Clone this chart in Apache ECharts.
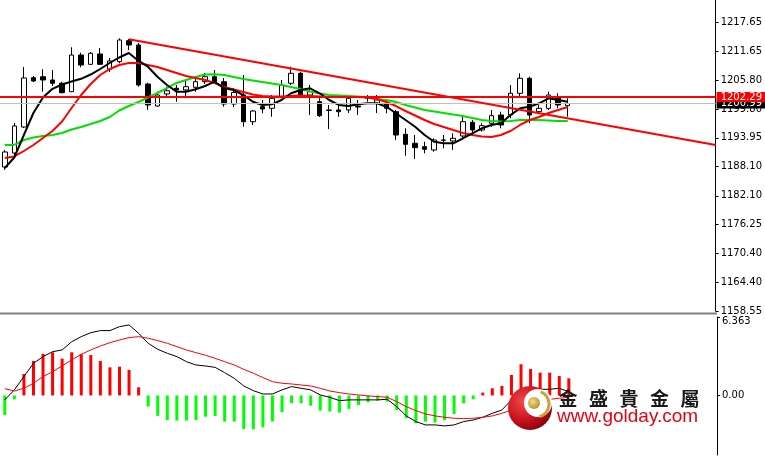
<!DOCTYPE html>
<html><head><meta charset="utf-8">
<script src="https://cdn.jsdelivr.net/npm/echarts@6/dist/echarts.min.js"></script>
<style>html,body{margin:0;padding:0;background:#fff}#c{width:765px;height:460px}</style>
</head><body><div id="c"></div>
<script>
// ---- candles (OHLC) ----
const opens = [1188.00,1190.86,1196.18,1206.26,1206.47,1205.79,1205.12,1203.40,1210.90,1209.00,
 1211.11,1207.98,1209.53,1213.83,1212.95,1204.97,1200.47,1202.93,1204.09,1203.75,
 1204.30,1205.44,1206.47,1205.44,1200.88,1202.72,1197.26,1200.33,1200.00,1202.38,
 1205.12,1207.16,1202.72,1201.35,1199.66,1199.66,1199.66,1200.47,1202.11,1201.03,
 1201.03,1199.31,1194.69,1192.85,1192.15,1191.48,1193.52,1193.32,1194.34,1197.14,
 1195.57,1196.94,1198.63,1198.63,1203.07,1206.14,1199.31,1200.00,1202.38,1200.54];
const closes = [1191.07,1196.38,1206.20,1205.59,1205.79,1205.12,1203.19,1210.90,1208.86,1211.25,
 1209.00,1209.68,1213.97,1212.95,1204.77,1200.68,1202.72,1203.60,1203.75,1204.42,
 1205.44,1206.47,1205.44,1200.88,1203.23,1197.26,1199.45,1199.86,1202.05,1204.77,
 1207.16,1202.72,1203.40,1198.49,1199.55,1199.31,1202.05,1200.27,1202.01,1201.70,
 1200.00,1194.54,1192.64,1191.95,1191.62,1193.52,1193.46,1193.87,1197.26,1195.57,
 1196.45,1198.49,1196.59,1203.07,1206.14,1198.63,1200.00,1202.72,1200.68,1200.99];
const lows = [1187.40,1190.45,1195.97,1205.38,1203.40,1204.56,1203.07,1203.34,1208.39,1208.86,
 1208.86,1207.43,1209.20,1211.90,1204.42,1199.66,1200.33,1202.38,1201.35,1202.05,
 1203.40,1204.97,1205.12,1200.33,1200.27,1196.24,1196.59,1198.98,1198.29,1202.05,
 1204.77,1202.38,1198.63,1198.22,1195.77,1198.29,1199.04,1198.63,1201.35,1199.04,
 1198.98,1193.52,1190.31,1189.63,1190.80,1191.13,1191.82,1191.48,1193.93,1194.54,
 1195.22,1196.24,1195.91,1197.96,1202.38,1196.94,1198.98,1199.66,1200.00,1198.29];
const highs = [1191.50,1197.00,1208.45,1206.60,1207.98,1207.84,1205.44,1212.48,1211.37,1211.52,
 1212.33,1210.29,1214.32,1214.17,1213.36,1205.24,1203.40,1204.42,1204.77,1205.79,
 1206.47,1207.22,1207.84,1206.20,1204.15,1206.81,1199.66,1201.70,1202.72,1205.79,
 1208.51,1207.49,1204.77,1202.11,1200.68,1200.68,1202.72,1201.70,1202.72,1202.72,
 1201.70,1199.66,1195.91,1194.54,1193.17,1193.87,1194.54,1194.89,1198.63,1197.61,
 1196.94,1199.66,1199.31,1204.77,1207.16,1206.47,1200.68,1203.40,1203.07,1202.05];

// ---- moving averages ----
const maFast = [1187.79,1189.94,1194.54,1199.04,1202.21,1203.99,1204.87,1205.48,1206.03,1206.91,
 1208.04,1209.27,1210.39,1211.31,1209.74,1208.51,1206.46,1204.77,1203.40,1203.40,
 1203.89,1204.56,1205.44,1204.09,1203.74,1202.72,1201.35,1200.68,1200.82,1201.70,
 1203.07,1203.74,1204.09,1203.07,1201.70,1200.68,1200.47,1200.82,1201.03,1201.03,
 1200.33,1198.98,1197.61,1196.24,1194.54,1193.17,1192.85,1192.85,1193.83,1194.89,
 1195.91,1196.59,1196.94,1198.63,1200.00,1200.33,1201.03,1202.05,1201.70,1201.35];
const maMid = [1189.84,1190.15,1191.27,1192.50,1193.93,1195.36,1197.30,1200.06,1202.72,1204.97,
 1206.81,1208.04,1208.86,1209.27,1209.27,1208.86,1208.45,1207.83,1207.22,1206.61,
 1206.20,1205.79,1205.18,1204.36,1203.85,1203.34,1202.82,1202.52,1202.42,1202.42,
 1202.52,1202.62,1202.52,1202.42,1202.31,1202.31,1202.31,1202.31,1202.21,1201.90,
 1201.29,1200.47,1199.45,1198.53,1197.61,1196.79,1196.18,1195.56,1194.95,1194.54,
 1194.24,1194.13,1194.54,1195.36,1196.59,1197.61,1198.22,1199.04,1199.66,1200.27];
const maSlow = [1192.50,1192.50,1193.52,1194.03,1194.34,1194.54,1194.95,1195.67,1196.18,1196.79,
 1197.41,1198.22,1199.55,1200.47,1201.29,1202.21,1203.13,1204.15,1205.18,1205.79,
 1206.40,1206.91,1206.96,1206.81,1206.40,1205.99,1205.69,1205.38,1205.07,1204.77,
 1204.36,1203.95,1203.44,1203.03,1202.72,1202.62,1202.52,1202.42,1202.21,1201.90,
 1201.70,1201.29,1200.68,1200.17,1199.65,1199.35,1199.04,1198.73,1198.43,1198.02,
 1197.61,1197.41,1197.30,1197.41,1197.61,1197.61,1197.61,1197.51,1197.41,1197.41];

// ---- MACD ----
const macdHist = [-1.58,-0.32,1.74,2.80,3.37,3.50,2.99,3.50,3.34,3.28,
 2.80,2.28,2.33,2.07,0.66,-0.90,-1.66,-1.99,-2.04,-2.04,
 -1.99,-1.72,-1.66,-2.12,-2.12,-2.72,-2.74,-2.58,-2.12,-1.36,
 -0.63,-0.63,-0.83,-1.23,-1.31,-1.39,-1.09,-0.77,-0.55,-0.42,
 -0.50,-1.18,-1.85,-2.26,-2.12,-2.20,-1.99,-1.50,-0.63,-0.31,
 0.23,0.58,0.77,1.66,2.53,2.15,1.85,1.85,1.58,1.39];
const macdDif = [-0.36,0.45,1.53,2.61,3.15,3.55,3.69,4.36,4.77,5.09,
 5.26,5.26,5.58,5.72,5.04,4.23,3.74,3.42,3.15,2.74,
 2.47,2.39,2.28,1.85,1.39,0.77,0.39,0.12,0.12,0.45,
 0.72,0.58,0.45,0.04,-0.15,-0.42,-0.36,-0.36,-0.36,-0.36,
 -0.31,-0.91,-1.66,-2.12,-2.39,-2.39,-2.47,-2.39,-2.12,-1.99,
 -1.77,-1.45,-1.18,-0.36,0.31,0.45,0.50,0.50,0.58,0.31];
const macdDea = [0.55,0.36,0.58,0.99,1.53,1.93,2.39,2.88,3.34,3.69,
 4.01,4.28,4.50,4.69,4.77,4.64,4.45,4.23,3.96,3.69,
 3.47,3.26,3.01,2.74,2.47,2.12,1.80,1.45,1.12,0.99,
 0.93,0.85,0.77,0.58,0.36,0.23,0.12,0.04,-0.04,-0.09,
 -0.15,-0.50,-0.91,-1.23,-1.50,-1.66,-1.77,-1.85,-1.88,-1.85,
 -1.77,-1.66,-1.45,-1.18,-0.91,-0.69,-0.50,-0.31,-0.23,-0.15];

// ---- levels, trendline, ticks ----
const resistanceLevel = 1202.29;
const bidPrice = 1200.99;
const trendFrom = [13, 1214.11];
const trendTo = [74.5, 1192.49];
const priceTicks = [1158.55,1164.40,1170.40,1176.25,1182.10,1188.10,1193.95,1199.80,1205.80,1211.65,1217.65];
const priceTickLabels = ['1158.55','1164.40','1170.40','1176.25','1182.10','1188.10','1193.95','1199.80','1205.80','1211.65','1217.65'];
const macdTicks = [0, 6.363];
const macdTickLabels = ['0.00','6.363'];
const barCount = 60, emptySlots = 15;
const categories = Array.from({length: barCount + emptySlots}, (_, i) => String(i + 1));

const candleData = opens.map((o, i) => [o, closes[i], lows[i], highs[i]]);

const chart = echarts.init(document.getElementById('c'), null, {renderer: 'canvas'});
const axisFont = {fontFamily: 'DejaVu Sans', fontSize: 10, color: '#000'};

const wmChars = ['金','盛','貴','金','屬'];
const graphics = [
  {type: 'line', shape: {x1: 0, y1: 313.5, x2: 717, y2: 313.5}, style: {stroke: '#808080', lineWidth: 2}, z: 10},
  {type: 'circle', shape: {cx: 530, cy: 408, r: 22}, z: 20,
    style: {fill: new echarts.graphic.RadialGradient(0.35, 0.35, 0.75, [
      {offset: 0, color: '#f24a4a'}, {offset: 0.6, color: '#c8101a'}, {offset: 1, color: '#7a0010'}])}},
  {type: 'circle', shape: {cx: 538, cy: 403, r: 14}, z: 21, style: {fill: '#ffffff'}},
  {type: 'arc', shape: {cx: 536, cy: 404, r: 13, startAngle: -1.2, endAngle: 1.3}, z: 22,
    style: {stroke: '#c9a23a', lineWidth: 3, fill: null}},
  {type: 'circle', shape: {cx: 534, cy: 403, r: 6}, z: 23,
    style: {fill: new echarts.graphic.RadialGradient(0.4, 0.4, 0.7, [
      {offset: 0, color: '#f3dc8a'}, {offset: 1, color: '#b08a22'}])}},
  {type: 'text', z: 20, style: {text: 'www.golday.com', x: 557, y: 417, fill: '#e60012',
    font: '19px "Liberation Sans", Arial, sans-serif', textVerticalAlign: 'middle', verticalAlign: 'middle'}}
];
wmChars.forEach((ch, k) => graphics.push({type: 'text', z: 20,
  style: {text: ch, x: 568 + k * 30.5, y: 399, fill: '#1a1a1a', font: 'bold 19px "Noto Sans CJK TC"',
    align: 'center', textAlign: 'center', verticalAlign: 'middle', textVerticalAlign: 'middle'}}));

const option = {
  animation: false,
  backgroundColor: '#ffffff',
  grid: [
    {left: -1, top: 0, width: 718, height: 311},
    {left: -1, top: 317, width: 718, height: 138}
  ],
  xAxis: [
    {type: 'category', gridIndex: 0, data: categories, boundaryGap: true, show: false},
    {type: 'category', gridIndex: 1, data: categories, boundaryGap: true, show: false},
    {type: 'value', gridIndex: 0, min: -0.5, max: barCount + emptySlots - 0.5, show: false}
  ],
  yAxis: [
    {type: 'value', gridIndex: 0, position: 'right', min: 1158.55, max: 1222.15, scale: true,
      splitLine: {show: false},
      axisLine: {show: true, onZero: false, lineStyle: {color: '#000', width: 1}},
      axisTick: {show: true, inside: false, length: 3, lineStyle: {color: '#000'}, customValues: priceTicks},
      axisLabel: Object.assign({show: true, margin: 5, customValues: priceTicks,
        formatter: v => { const i = priceTicks.findIndex(t => Math.abs(t - v) < 1e-6); return i >= 0 ? priceTickLabels[i] : ''; }}, axisFont)},
    {type: 'value', gridIndex: 1, position: 'right', min: -4.83, max: 6.363,
      splitLine: {show: false},
      axisLine: {show: true, onZero: false, lineStyle: {color: '#000', width: 1}},
      axisTick: {show: true, inside: false, length: 3, lineStyle: {color: '#000'}, customValues: macdTicks},
      axisLabel: Object.assign({show: true, margin: 5, customValues: macdTicks,
        formatter: v => { const i = macdTicks.findIndex(t => Math.abs(t - v) < 1e-6); if (i < 0) return ''; return i === macdTicks.length - 1 ? '{top|' + macdTickLabels[i] + '}' : macdTickLabels[i]; },
        rich: {top: {padding: [9, 0, 0, 0], fontFamily: 'DejaVu Sans', fontSize: 10, color: '#000'}}}, axisFont)}
  ],
  graphic: graphics,
  series: [
    {type: 'candlestick', xAxisIndex: 0, yAxisIndex: 0, data: candleData, barWidth: 5, z: 2,
      itemStyle: {color: '#ffffff', color0: '#000000', borderColor: '#000000', borderColor0: '#000000', borderWidth: 1},
      markLine: {silent: true, symbol: ['none', 'none'], animation: false,
        data: [
          {yAxis: bidPrice, lineStyle: {color: '#c8c0a8', width: 1, type: 'solid'},
            label: {show: true, position: 'end', distance: 1, formatter: bidPrice.toFixed(2), color: '#fff',
              backgroundColor: '#000', padding: [0, 4, 0, 4], fontFamily: 'DejaVu Sans', fontSize: 10, lineHeight: 10}},
          {yAxis: resistanceLevel, lineStyle: {color: '#ff0000', width: 2, type: 'solid'},
            label: {show: true, position: 'end', distance: 1, formatter: resistanceLevel.toFixed(2), color: '#fff',
              backgroundColor: '#ff0000', padding: [0, 4, 0, 4], fontFamily: 'DejaVu Sans', fontSize: 10, lineHeight: 10}}
        ]}},
    {type: 'line', xAxisIndex: 0, yAxisIndex: 0, data: maSlow, symbol: 'none', z: 3, lineStyle: {color: '#00e000', width: 2}},
    {type: 'line', xAxisIndex: 0, yAxisIndex: 0, data: maMid, symbol: 'none', z: 3, lineStyle: {color: '#ff0000', width: 2}},
    {type: 'line', xAxisIndex: 0, yAxisIndex: 0, data: maFast, symbol: 'none', z: 4, lineStyle: {color: '#000000', width: 2}},
    {type: 'line', xAxisIndex: 2, yAxisIndex: 0, data: [trendFrom, trendTo], symbol: 'none', z: 5, lineStyle: {color: '#ff0000', width: 2}},
    {type: 'bar', xAxisIndex: 1, yAxisIndex: 1, data: macdHist, barWidth: 3,
      itemStyle: {color: p => p.value >= 0 ? '#ff0000' : '#00ff00'}},
    {type: 'line', xAxisIndex: 1, yAxisIndex: 1, data: macdDif, symbol: 'none', lineStyle: {color: '#000', width: 1}},
    {type: 'line', xAxisIndex: 1, yAxisIndex: 1, data: macdDea, symbol: 'none', lineStyle: {color: '#ff0000', width: 1}}
  ]
};
chart.setOption(option);
</script></body></html>
